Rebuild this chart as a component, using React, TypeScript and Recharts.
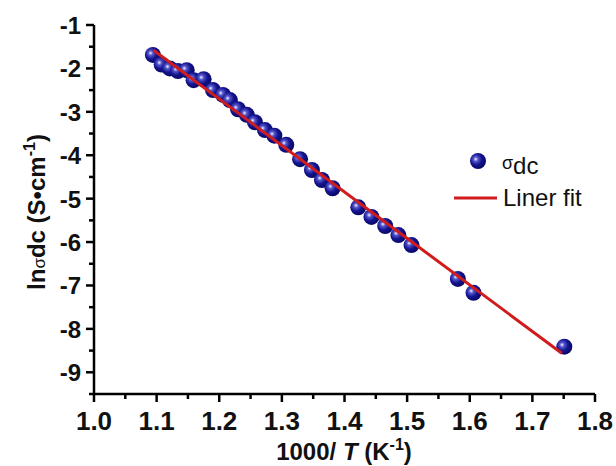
import React from "react";
import { ComposedChart, Scatter, XAxis, YAxis } from "recharts";

const xValues = [1.094, 1.108, 1.121, 1.134, 1.148, 1.159, 1.175, 1.19, 1.206, 1.217, 1.23, 1.244, 1.257, 1.273, 1.288, 1.307, 1.329, 1.348, 1.364, 1.381, 1.422, 1.443, 1.465, 1.486, 1.507, 1.581, 1.606, 1.751];
const lnSigma = [-1.69, -1.91, -2.0, -2.06, -2.04, -2.27, -2.25, -2.5, -2.61, -2.73, -2.94, -3.07, -3.24, -3.42, -3.55, -3.76, -4.09, -4.34, -4.57, -4.76, -5.2, -5.42, -5.63, -5.84, -6.07, -6.85, -7.17, -8.41];
const fitX = [1.095, 1.747];
const fitY = [-1.58, -8.56];

const xMajorTicks = [1.0, 1.1, 1.2, 1.3, 1.4, 1.5, 1.6, 1.7, 1.8];
const xMinorTicks = [1.05, 1.15, 1.25, 1.35, 1.45, 1.55, 1.65, 1.75];
const yMajorTicks = [-9, -8, -7, -6, -5, -4, -3, -2, -1];
const yMinorTicks = [-9.5, -8.5, -7.5, -6.5, -5.5, -4.5, -3.5, -2.5, -1.5];

const points = xValues.map((x, i) => ({ x, y: lnSigma[i] }));
const fitData = fitX.map((x, i) => ({ x, y: fitY[i] }));
const xTicks = [...xMajorTicks, ...xMinorTicks].sort((a, b) => a - b);
const yTicks = [...yMajorTicks, ...yMinorTicks].sort((a, b) => a - b);

const isMajor = (v: number, majors: number[]) => majors.some((m) => Math.abs(m - v) < 1e-6);

const FONT = "'Liberation Sans', Arial, sans-serif";
const RED = "#d01c1c";

const XTick = (props: any) => {
  const { x, y, payload } = props;
  const major = isMajor(payload.value, xMajorTicks);
  return (
    <g>
      <line x1={x} y1={y} x2={x} y2={y + (major ? 8 : 5)} stroke="#000" strokeWidth={2.5} />
      {major && (
        <text x={x} y={y + 36} textAnchor="middle" fontSize={26} fontWeight="bold" fontFamily={FONT} fill="#111">
          {payload.value.toFixed(1)}
        </text>
      )}
    </g>
  );
};

const YTick = (props: any) => {
  const { x, y, payload } = props;
  const major = isMajor(payload.value, yMajorTicks);
  return (
    <g>
      <line x1={x} y1={y} x2={x - (major ? 8 : 5)} y2={y} stroke="#000" strokeWidth={2.5} />
      {major && (
        <text x={x - 13} y={y + 9} textAnchor="end" fontSize={24} fontWeight="bold" fontFamily={FONT} fill="#111">
          {String(payload.value)}
        </text>
      )}
    </g>
  );
};

const Sphere = (props: any) => {
  const { cx, cy } = props;
  if (cx == null || cy == null) return null;
  return <circle cx={cx} cy={cy} r={8} fill="url(#sphereGrad)" />;
};

const NoDot = () => <g />;

export default function App() {
  return (
    <div style={{ position: "absolute", left: 0, top: 0, width: 616, height: 466, background: "#fff" }}>
      <svg width={0} height={0} style={{ position: "absolute" }}>
        <defs>
          <radialGradient id="sphereGrad" cx="0.4" cy="0.4" r="0.65" fx="0.35" fy="0.38">
            <stop offset="0%" stopColor="#f2f2ff" />
            <stop offset="22%" stopColor="#5555cc" />
            <stop offset="55%" stopColor="#14148f" />
            <stop offset="100%" stopColor="#05055e" />
          </radialGradient>
        </defs>
      </svg>
      <ComposedChart width={616} height={466} margin={{ top: 25, right: 21, left: 0, bottom: 0 }}>
        <XAxis
          type="number"
          dataKey="x"
          domain={[1.0, 1.8]}
          ticks={xTicks}
          interval={0}
          tickSize={0}
          tickMargin={0}
          tickLine={false}
          tick={<XTick />}
          height={72}
          axisLine={{ stroke: "#000", strokeWidth: 2.5 }}
          allowDataOverflow
        />
        <YAxis
          type="number"
          dataKey="y"
          domain={[-9.5, -1]}
          ticks={yTicks}
          interval={0}
          tickSize={0}
          tickMargin={0}
          tickLine={false}
          tick={<YTick />}
          width={94}
          axisLine={{ stroke: "#000", strokeWidth: 2.5 }}
          allowDataOverflow
        />
        <Scatter data={points} dataKey="y" shape={<Sphere />} isAnimationActive={false} />
        <Scatter
          data={fitData}
          dataKey="y"
          shape={<NoDot />}
          line={{ stroke: RED, strokeWidth: 3 }}
          lineType="joint"
          isAnimationActive={false}
        />
      </ComposedChart>
      <svg width={616} height={466} style={{ position: "absolute", left: 0, top: 0, pointerEvents: "none" }}>
        <text transform="rotate(-90, 45, 212)" x={45} y={212} textAnchor="middle" fontSize={24} fontWeight="bold" fontFamily={FONT} fill="#111">
          <tspan>ln</tspan>
          <tspan fontWeight="normal" fontSize={17}>σ</tspan>
          <tspan>dc (S•cm</tspan>
          <tspan fontSize={16} dy={-10}>-1</tspan>
          <tspan dy={10}>)</tspan>
        </text>
        <text x={344} y={460} textAnchor="middle" fontSize={24} fontWeight="bold" fontFamily={FONT} fill="#111">
          <tspan>1000/ </tspan>
          <tspan fontStyle="italic">T</tspan>
          <tspan> (K</tspan>
          <tspan fontSize={16} dy={-10}>-1</tspan>
          <tspan dy={10}>)</tspan>
        </text>
        <circle cx={478} cy={161} r={8} fill="url(#sphereGrad)" />
        <text x={502} y={174} fontFamily={FONT} fill="#111">
          <tspan fontSize={18} dy={-5}>σ</tspan>
          <tspan fontSize={24} dy={5}>dc</tspan>
        </text>
        <line x1={454} y1={198} x2={497} y2={198} stroke={RED} strokeWidth={3} />
        <text x={503} y={206} fontSize={24} fontFamily={FONT} fill="#111">Liner fit</text>
      </svg>
    </div>
  );
}
